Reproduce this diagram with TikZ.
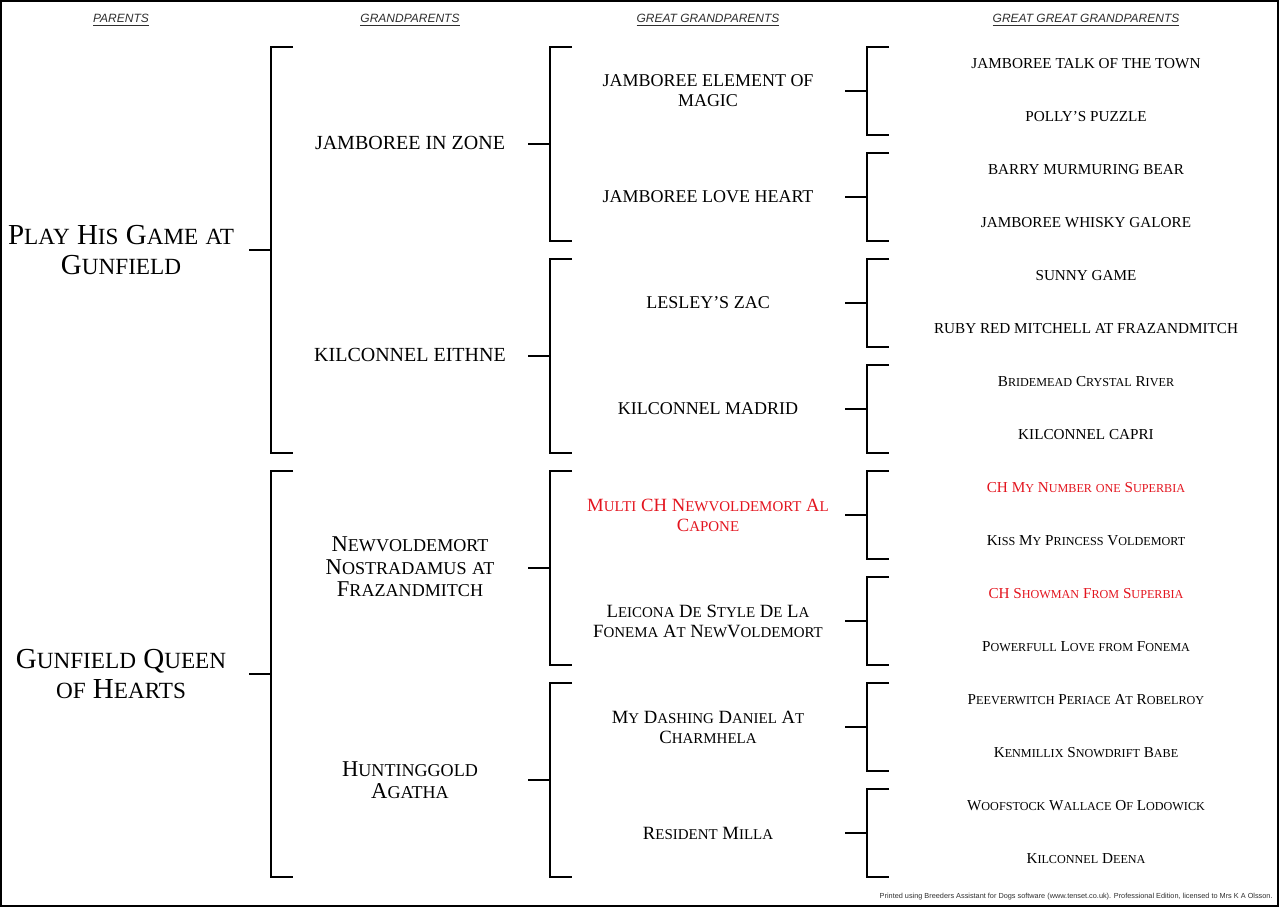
\documentclass[tikz,border=0pt]{standalone}
\usepackage{fontspec}
\setmainfont{Liberation Serif}
\setsansfont{Liberation Sans}
\usetikzlibrary{positioning}
\definecolor{Ink}{HTML}{000000}
\definecolor{HeadGray}{HTML}{2E2E2E}
\definecolor{ChampRed}{HTML}{E3141E}
% fake small capitals: capitals stay, the rest is set as smaller capitals
\makeatletter
\ExplSyntaxOn
\seq_new:N \l_ped_words_seq
\NewDocumentCommand \fsc { m }
 {
  \seq_set_split:Nnn \l_ped_words_seq { ~ } { #1 }
  \seq_map_indexed_inline:Nn \l_ped_words_seq
   {
    \int_compare:nNnT { ##1 } > { 1 } { \c_space_tl }
    \tl_map_inline:nn { ##2 }
     {
      \int_compare:nTF { `A <= `####1 <= `Z }
       { ####1 }
       { { \fontsize { \fp_eval:n { 0.8 * \f@size } } { 0 } \selectfont \text_uppercase:n { ####1 } } }
     }
   }
 }
\ExplSyntaxOff
\makeatother
\tikzset{
  dog/.style={align=center, inner sep=0pt, text=Ink},
  parent/.style={dog, font=\fontsize{14.5}{15}\selectfont},
  grand/.style={dog, font=\fontsize{10}{11.3}\selectfont},
  grandsc/.style={dog, font=\fontsize{11.3}{11.3}\selectfont},
  great/.style={dog, font=\fontsize{9}{10}\selectfont},
  greatsc/.style={dog, font=\fontsize{9.35}{10}\selectfont},
  ggreat/.style={dog, font=\fontsize{7.6}{9}\selectfont},
  champ/.style={text=ChampRed},
  heading/.style={inner sep=0pt, text=HeadGray, font=\sffamily\itshape\fontsize{6}{7}\selectfont},
  credit/.style={inner sep=0pt, text=HeadGray, font=\sffamily\fontsize{3.66}{4}\selectfont},
  bracketline/.style={line width=1.2pt, draw=Ink},
  pics/bracket/.style={code={
    \draw[bracketline] (-22,0) -- (0,0) (22,-#1) -- (0,-#1) -- (0,#1) -- (22,#1);
  }}
}
\begin{document}
\begin{tikzpicture}[x=0.5pt,y=-0.5pt]
    \useasboundingbox (0,0) rectangle (1280,908);
    \draw[line width=0.9pt] (1,1) rectangle (1278,906);
    % headings
    \node[heading] (hpar) at (121,20) {\underline{PARENTS}};
    \node[heading] (hgra) at (410,20) {\underline{GRANDPARENTS}};
    \node[heading] (hgre) at (708,20) {\underline{GREAT GRANDPARENTS}};
    \node[heading] (hggr) at (1086,20) {\underline{GREAT GREAT GRANDPARENTS}};
    % parents
    \node[parent] (p1) at (121,250) {\fsc{Play His Game at}\\\fsc{Gunfield}};
    \node[parent] (p2) at (121,674) {\fsc{Gunfield Queen}\\\fsc{of Hearts}};
    % grandparents
    \node[grand] (g1) at (410,143) {JAMBOREE IN ZONE};
    \node[grand] (g2) at (410,355) {KILCONNEL EITHNE};
    \node[grandsc] (g3) at (410,567) {\fsc{Newvoldemort}\\\fsc{Nostradamus at}\\\fsc{Frazandmitch}};
    \node[grandsc] (g4) at (410,780) {\fsc{Huntinggold}\\\fsc{Agatha}};
    % great grandparents
    \node[great] (gg1) at (708,91) {JAMBOREE ELEMENT OF\\MAGIC};
    \node[great] (gg2) at (708,197) {JAMBOREE LOVE HEART};
    \node[great] (gg3) at (708,303) {LESLEY'S ZAC};
    \node[great] (gg4) at (708,409) {KILCONNEL MADRID};
    \node[greatsc,champ] (gg5) at (708,515) {\fsc{Multi CH Newvoldemort Al}\\\fsc{Capone}};
    \node[greatsc] (gg6) at (708,621) {\fsc{Leicona De Style De La}\\\fsc{Fonema At NewVoldemort}};
    \node[greatsc] (gg7) at (708,727) {\fsc{My Dashing Daniel At}\\\fsc{Charmhela}};
    \node[greatsc] (gg8) at (708,833) {\fsc{Resident Milla}};
    % great great grandparents
    \node[ggreat] (ggg1) at (1086,64) {JAMBOREE TALK OF THE TOWN};
    \node[ggreat] (ggg2) at (1086,117) {POLLY'S PUZZLE};
    \node[ggreat] (ggg3) at (1086,170) {BARRY MURMURING BEAR};
    \node[ggreat] (ggg4) at (1086,223) {JAMBOREE WHISKY GALORE};
    \node[ggreat] (ggg5) at (1086,276) {SUNNY GAME};
    \node[ggreat] (ggg6) at (1086,329) {RUBY RED MITCHELL AT FRAZANDMITCH};
    \node[ggreat] (ggg7) at (1086,382) {\fsc{Bridemead Crystal  River}};
    \node[ggreat] (ggg8) at (1086,435) {KILCONNEL CAPRI};
    \node[ggreat,champ] (ggg9) at (1086,488) {\fsc{CH My Number one Superbia}};
    \node[ggreat] (ggg10) at (1086,541) {\fsc{Kiss My Princess Voldemort}};
    \node[ggreat,champ] (ggg11) at (1086,594) {\fsc{CH Showman From Superbia}};
    \node[ggreat] (ggg12) at (1086,647) {\fsc{Powerfull Love from Fonema}};
    \node[ggreat] (ggg13) at (1086,700) {\fsc{Peeverwitch Periace At Robelroy}};
    \node[ggreat] (ggg14) at (1086,753) {\fsc{Kenmillix Snowdrift Babe}};
    \node[ggreat] (ggg15) at (1086,806) {\fsc{Woofstock Wallace Of Lodowick}};
    \node[ggreat] (ggg16) at (1086,859) {\fsc{Kilconnel Deena}};
    % brackets
    \foreach \k in {0,1} \pic (bp\k) at (271,{250+424*\k}) {bracket=203};
    \foreach \k in {0,...,3} \pic (bg\k) at (550,{144+212*\k}) {bracket=97};
    \foreach \k in {0,...,7} \pic (bgg\k) at (867,{91+106*\k}) {bracket=44};
    \node[credit,anchor=east] (note) at (1273,897) {Printed using Breeders Assistant for Dogs software (www.tenset.co.uk). Professional Edition, licensed to Mrs K A Olsson.};
  \end{tikzpicture}
\end{document}
